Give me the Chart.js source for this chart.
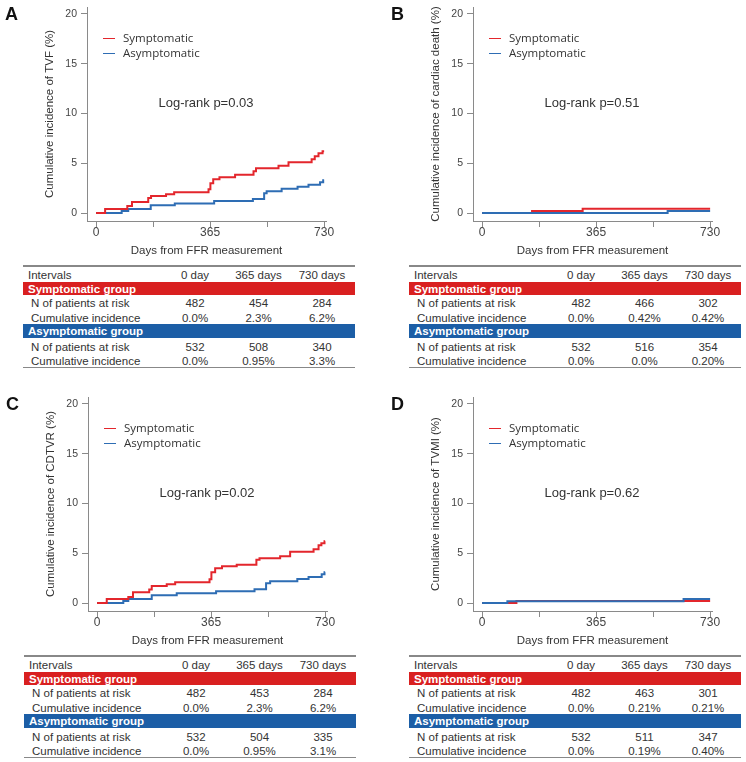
<!DOCTYPE html>
<html><head><meta charset="utf-8">
<script src="https://cdn.jsdelivr.net/npm/chart.js@4.4.1/dist/chart.umd.min.js"></script>
<style>
html,body{margin:0;padding:0;background:#fff;}
#wrap{position:relative;width:746px;height:762px;overflow:hidden;font-family:"Liberation Sans",Arial,Helvetica,sans-serif;}
.abs{position:absolute;white-space:nowrap;}
canvas{position:absolute;}
</style></head><body><div id="wrap"></div>
<script>
// ---- shared labels / ticks ----
const dayTicks = [0, 182.5, 365, 547.5, 730];
const dayTickLabels = ['0', '', '365', '', '730'];
const pctTicks = [0, 5, 10, 15, 20];
const seriesNames = ['Symptomatic', 'Asymptomatic'];
const xTitle = 'Days from FFR measurement';
const intervalHeader = 'Intervals';
const intervalLabels = ['0 day', '365 days', '730 days'];
const rowLabels = ['N of patients at risk', 'Cumulative incidence'];
const groupLabels = ['Symptomatic group', 'Asymptomatic group'];
const panelLetters = ['A', 'B', 'C', 'D'];
const yTitles = ['Cumulative incidence of TVF (%)', 'Cumulative incidence of cardiac death (%)',
                 'Cumulative incidence of CDTVR (%)', 'Cumulative incidence of TVMI (%)'];
const logRankTexts = ['Log-rank p=0.03', 'Log-rank p=0.51', 'Log-rank p=0.02', 'Log-rank p=0.62'];

// ---- Panel A: TVF ----
const tvfSymDays  = [0, 29, 100, 115, 167, 176, 224, 250, 360, 366, 375, 395, 445, 504, 512, 584, 616, 690, 700, 712, 725, 730];
const tvfSymPct   = [0, 0.4, 0.7, 1.1, 1.5, 1.7, 1.9, 2.1, 2.4, 3.0, 3.4, 3.6, 3.85, 4.2, 4.5, 4.75, 5.1, 5.4, 5.7, 6.0, 6.2, 6.2];
const tvfAsymDays = [0, 82, 103, 175, 252, 378, 502, 538, 546, 594, 645, 680, 717, 727, 730];
const tvfAsymPct  = [0, 0.2, 0.4, 0.77, 0.97, 1.2, 1.4, 2.0, 2.2, 2.45, 2.65, 2.85, 3.1, 3.3, 3.3];
const tvfSymRisk = [482, 454, 284];
const tvfSymCum  = ['0.0%', '2.3%', '6.2%'];
const tvfAsymRisk = [532, 508, 340];
const tvfAsymCum  = ['0.0%', '0.95%', '3.3%'];

// ---- Panel B: cardiac death ----
const cdSymDays  = [0, 160, 322, 730];
const cdSymPct   = [0, 0.21, 0.42, 0.42];
const cdAsymDays = [0, 594, 730];
const cdAsymPct  = [0, 0.20, 0.20];
const cdSymRisk = [482, 466, 302];
const cdSymCum  = ['0.0%', '0.42%', '0.42%'];
const cdAsymRisk = [532, 516, 354];
const cdAsymCum  = ['0.0%', '0.0%', '0.20%'];

// ---- Panel C: CDTVR ----
const cdtvrSymDays  = [0, 31, 100, 115, 167, 175, 223, 250, 360, 366, 378, 400, 447, 510, 520, 586, 618, 693, 709, 718, 728, 730];
const cdtvrSymPct   = [0, 0.4, 0.6, 1.08, 1.35, 1.7, 1.9, 2.1, 2.4, 3.1, 3.5, 3.7, 3.85, 4.35, 4.5, 4.7, 5.15, 5.4, 5.8, 6.0, 6.2, 6.2];
const cdtvrAsymDays = [0, 84, 100, 175, 255, 381, 504, 541, 554, 641, 677, 719, 728, 730];
const cdtvrAsymPct  = [0, 0.2, 0.4, 0.78, 0.98, 1.18, 1.38, 1.99, 2.2, 2.42, 2.62, 2.9, 3.1, 3.1];
const cdtvrSymRisk = [482, 453, 284];
const cdtvrSymCum  = ['0.0%', '2.3%', '6.2%'];
const cdtvrAsymRisk = [532, 504, 335];
const cdtvrAsymCum  = ['0.0%', '0.95%', '3.1%'];

// ---- Panel D: TVMI ----
const tvmiSymDays  = [0, 110, 730];
const tvmiSymPct   = [0, 0.21, 0.21];
const tvmiAsymDays = [0, 81, 645, 730];
const tvmiAsymPct  = [0, 0.19, 0.40, 0.40];
const tvmiSymRisk = [482, 463, 301];
const tvmiSymCum  = ['0.0%', '0.21%', '0.21%'];
const tvmiAsymRisk = [532, 511, 347];
const tvmiAsymCum  = ['0.0%', '0.19%', '0.40%'];

// ---- styling / layout ----
const FONT = '"Liberation Sans", Arial, Helvetica, sans-serif';
const LEG_FONT = '"Open Sans", "Noto Sans", sans-serif';
const RED = '#e3262c', BLUE = '#2e6db4';
const BAND_RED = '#d92020', BAND_BLUE = '#1c5ea6';
const TXT = '#333';

const panels = [
  {ox: 0,   oy: 0,   sd: tvfSymDays,   sp: tvfSymPct,   ad: tvfAsymDays,   ap: tvfAsymPct,   sr: tvfSymRisk,   sc: tvfSymCum,   ar: tvfAsymRisk,   ac: tvfAsymCum,   symTop: true},
  {ox: 386, oy: 0,   sd: cdSymDays,    sp: cdSymPct,    ad: cdAsymDays,    ap: cdAsymPct,    sr: cdSymRisk,    sc: cdSymCum,    ar: cdAsymRisk,    ac: cdAsymCum,    symTop: false},
  {ox: 1,   oy: 390, sd: cdtvrSymDays, sp: cdtvrSymPct, ad: cdtvrAsymDays, ap: cdtvrAsymPct, sr: cdtvrSymRisk, sc: cdtvrSymCum, ar: cdtvrAsymRisk, ac: cdtvrAsymCum, symTop: true},
  {ox: 386, oy: 390, sd: tvmiSymDays,  sp: tvmiSymPct,  ad: tvmiAsymDays,  ap: tvmiAsymPct,  sr: tvmiSymRisk,  sc: tvmiSymCum,  ar: tvmiAsymRisk,  ac: tvmiAsymCum,  symTop: false}
];

const wrap = document.getElementById('wrap');

function box(x, y, w, h, color) {
  const d = document.createElement('div');
  d.className = 'abs';
  d.style.cssText += `left:${x}px;top:${y}px;width:${w}px;height:${h}px;background:${color};`;
  wrap.appendChild(d);
  return d;
}
function text(t, x, cy, o = {}) {
  const h = 20;
  const d = document.createElement('div');
  d.className = 'abs';
  d.textContent = t;
  const size = o.size || 11;
  let css = `top:${cy - h / 2}px;height:${h}px;line-height:${h}px;font-size:${size}px;color:${o.color || TXT};font-weight:${o.bold ? 'bold' : 'normal'};`;
  if (o.family) css += `font-family:${o.family};`;
  if (o.center) css += `left:${x - 100}px;width:200px;text-align:center;`;
  else css += `left:${x}px;`;
  d.style.cssText += css;
  wrap.appendChild(d);
  return d;
}

function buildChart(p, idx) {
  const c = document.createElement('canvas');
  c.width = 345; c.height = 258;
  c.style.left = p.ox + 'px'; c.style.top = p.oy + 'px';
  c.style.width = '345px'; c.style.height = '258px';
  wrap.appendChild(c);
  const mk = (days, pct) => days.map((d, i) => ({x: d, y: pct[i]}));
  new Chart(c, {
    type: 'line',
    data: {datasets: [
      {label: seriesNames[0], data: mk(p.sd, p.sp), borderColor: RED, borderWidth: 2, stepped: true,
       pointRadius: 0, fill: false, order: p.symTop ? 0 : 1, borderCapStyle: 'butt'},
      {label: seriesNames[1], data: mk(p.ad, p.ap), borderColor: BLUE, borderWidth: 2, stepped: true,
       pointRadius: 0, fill: false, order: p.symTop ? 1 : 0, borderCapStyle: 'butt'}
    ]},
    options: {
      responsive: false, animation: false, devicePixelRatio: 1,
      layout: {padding: {left: 43, top: 7, right: 19, bottom: 0}},
      plugins: {legend: {display: false}, tooltip: {enabled: false}},
      scales: {
        x: {
          type: 'linear', min: -29, max: 736,
          afterBuildTicks: s => { s.ticks = dayTicks.map(v => ({value: v})); },
          afterFit: s => { s.height = 37; s.paddingLeft = 0; s.paddingRight = 0; },
          ticks: {autoSkip: false, maxRotation: 0, minRotation: 0, padding: 0, color: '#444',
                  font: {family: FONT, size: 12, lineHeight: 1}, callback: (v, i) => dayTickLabels[i]},
          grid: {drawOnChartArea: false, drawTicks: true, tickLength: 6, color: '#8a8a8a', lineWidth: 1},
          border: {display: true, color: '#8a8a8a', width: 1},
          title: {display: true, text: xTitle, color: TXT, font: {family: FONT, size: 11.5}, padding: {top: 0, bottom: 0}}
        },
        y: {
          type: 'linear', min: -0.8, max: 20.7,
          afterBuildTicks: s => { s.ticks = pctTicks.map(v => ({value: v})); },
          afterFit: s => { s.width = 44; s.paddingTop = 0; s.paddingBottom = 0; },
          ticks: {autoSkip: false, padding: 4, color: '#444', font: {family: FONT, size: 10.5},
                  callback: v => String(v)},
          grid: {drawOnChartArea: false, drawTicks: true, tickLength: 6, color: '#8a8a8a', lineWidth: 1},
          border: {display: true, color: '#8a8a8a', width: 1},
          title: {display: true, text: yTitles[idx], color: TXT, font: {family: FONT, size: 11.5}, padding: {top: 0, bottom: 0}}
        }
      }
    }
  });
}

function buildOverlay(p, idx) {
  const ox = p.ox, oy = p.oy;
  // panel letter
  text(panelLetters[idx], ox + 5, oy + 14, {size: 18, bold: true, color: '#111'});
  // legend
  box(ox + 103, oy + 37.5, 12, 1.5, RED);
  box(ox + 103, oy + 52.5, 12, 1.5, BLUE);
  text(seriesNames[0], ox + 123, oy + 38, {size: 11.5, family: LEG_FONT});
  text(seriesNames[1], ox + 123, oy + 53, {size: 11.5, family: LEG_FONT});
  // log-rank
  text(logRankTexts[idx], ox + 206, oy + 103, {size: 13, center: true});
  // table
  const tx = ox + 23, ty = oy + 265, tw = 332;
  const cols = [172, 235.5, 299];
  const fs = 11.5;
  box(tx, ty, tw, 1.5, '#888');
  text(intervalHeader, tx + 5, ty + 10, {size: fs});
  intervalLabels.forEach((l, i) => text(l, tx + cols[i], ty + 10, {size: fs, center: true}));
  box(tx, ty + 17, tw, 13, BAND_RED);
  text(groupLabels[0], tx + 5, ty + 23.5, {size: 11.5, bold: true, color: '#fff'});
  text(rowLabels[0], tx + 8, ty + 38, {size: fs});
  text(rowLabels[1], tx + 8, ty + 53, {size: fs});
  p.sr.forEach((v, i) => text(String(v), tx + cols[i], ty + 38, {size: fs, center: true}));
  p.sc.forEach((v, i) => text(v, tx + cols[i], ty + 53, {size: fs, center: true}));
  box(tx, ty + 59, tw, 14, BAND_BLUE);
  text(groupLabels[1], tx + 5, ty + 66, {size: 11.5, bold: true, color: '#fff'});
  text(rowLabels[0], tx + 8, ty + 82, {size: fs});
  text(rowLabels[1], tx + 8, ty + 96, {size: fs});
  p.ar.forEach((v, i) => text(String(v), tx + cols[i], ty + 82, {size: fs, center: true}));
  p.ac.forEach((v, i) => text(v, tx + cols[i], ty + 96, {size: fs, center: true}));
  box(tx, ty + 101.5, tw, 1.2, '#888');
}

panels.forEach((p, i) => { buildChart(p, i); buildOverlay(p, i); });
</script>
</body></html>
